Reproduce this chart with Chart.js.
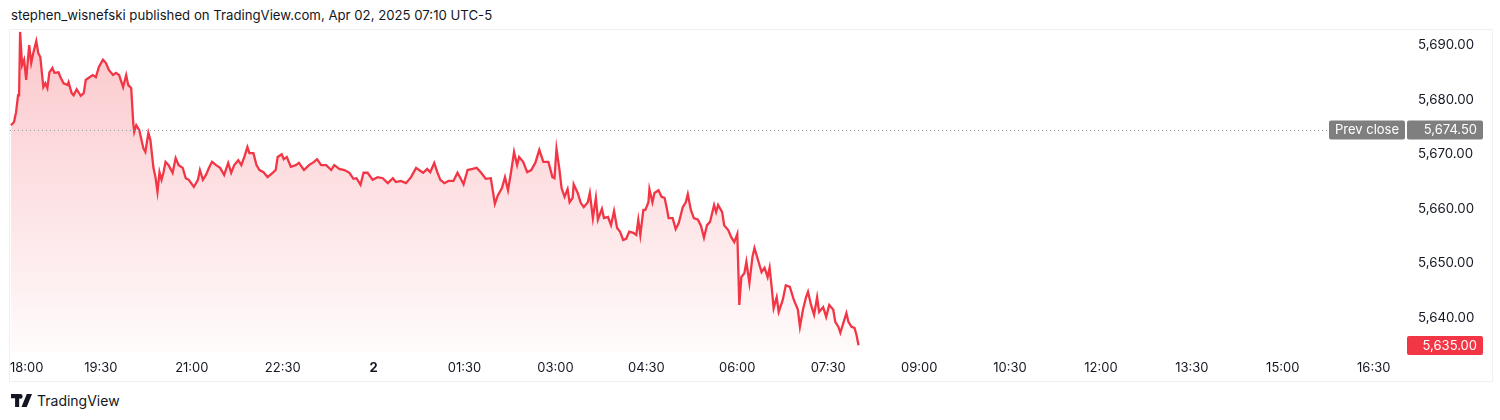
<!DOCTYPE html>
<html>
<head>
<meta charset="utf-8">
<script src="https://cdn.jsdelivr.net/npm/chart.js@4"></script>
<style>
    html, body { margin: 0; padding: 0; background: #ffffff; }
    body { width: 1500px; height: 420px; position: relative; overflow: hidden; font-family: Inter, "Noto Sans", sans-serif; color: #131722; }
    #header { position: absolute; left: 11px; top: 7px; font-size: 13.2px; white-space: nowrap; }
    #frame { position: absolute; left: 9px; top: 29px; width: 1482px; height: 351px; border: 1px solid #eef0f4; }
    #chart-wrap { position: absolute; left: 10px; top: 30px; width: 1482px; height: 351px; }
    #footer { position: absolute; left: 11px; top: 392px; font-size: 14px; display: flex; align-items: center; gap: 5px; }
</style>
</head>
<body>
<div id="header">stephen_wisnefski published on TradingView.com, Apr 02, 2025 07:10 UTC-5</div>
<div id="frame"></div>
<div id="chart-wrap"><canvas id="priceChart" width="1482" height="351"></canvas></div>
<div id="footer">
    <svg width="21" height="13" viewBox="0 0 36 22"><path d="M0 0h14v22H7V7H0z M16 0a4 4 0 1 1 0 8a4 4 0 1 1 0-8z" fill="#131722"/><path d="M27 0h9l-9 22h-9z" fill="#131722"/></svg>
    <span>TradingView</span>
</div>
<script>
// minutes since 18:00 (session open) and ES price
const minutes = [1, 4, 6, 8, 9, 10, 12, 14, 16, 19, 21, 23, 26, 28, 30, 33, 35, 37, 39, 42, 44, 48, 50, 53, 57, 58, 61, 63, 66, 70,
    73, 75, 78, 82, 85, 88, 92, 95, 98, 102, 105, 108, 112, 115, 117, 120, 122, 123, 125, 128, 132, 134, 137, 139, 142, 144, 146, 148, 150, 152,
    154, 157, 161, 164, 167, 171, 174, 177, 182, 186, 188, 191, 194, 197, 200, 204, 208, 212, 216, 219, 222, 226, 229, 232, 235, 237, 241, 244, 247, 251,
    255, 260, 263, 265, 269, 271, 274, 278, 283, 286, 291, 296, 301, 304, 308, 313, 318, 321, 326, 331, 336, 340, 343, 347, 350, 354, 359, 364, 369, 374,
    379, 382, 387, 392, 397, 402, 405, 409, 413, 416, 420, 423, 426, 430, 434, 439, 443, 446, 449, 453, 458, 462, 466, 471, 476, 480, 483, 487, 490, 493,
    496, 499, 502, 504, 508, 512, 516, 520, 524, 528, 533, 537, 539, 541, 544, 546, 549, 552, 554, 557, 558, 562, 565, 568, 572, 574, 577, 580, 582, 586,
    588, 592, 595, 598, 601, 604, 607, 610, 613, 617, 620, 622, 624, 627, 629, 632, 633, 636, 638, 642, 645, 648, 650, 652, 656, 659, 662, 666, 669, 671,
    674, 677, 681, 684, 687, 690, 693, 697, 699, 701, 705, 707, 711, 714, 717, 720, 722, 724, 727, 729, 732, 735, 737, 741, 744, 747, 750, 752, 754, 756,
    759, 761, 765, 768, 772, 776, 780, 782, 785, 788, 790, 793, 796, 799, 801, 805, 808, 811, 815, 817, 820, 822, 825, 828, 830, 833, 836, 838, 840];
const prices = [5675.3, 5675.9, 5677.7, 5680.8, 5680.8, 5692.4, 5686.3, 5687.3, 5683.6, 5690.0, 5686.7, 5688.5, 5690.7, 5688.5, 5687.8, 5682.3, 5683.0, 5682.1, 5685.0, 5685.8,
    5684.9, 5685.0, 5684.1, 5683.0, 5682.7, 5683.2, 5681.2, 5680.8, 5681.9, 5680.7, 5681.2, 5683.6, 5684.0, 5684.5, 5684.1, 5686.0, 5687.3, 5686.7, 5685.4, 5684.5,
    5684.9, 5684.5, 5682.3, 5684.5, 5682.7, 5682.1, 5675.7, 5674.1, 5675.3, 5674.4, 5671.1, 5670.4, 5673.9, 5672.6, 5667.5, 5665.8, 5663.1, 5666.7, 5665.3, 5666.7,
    5668.6, 5668.0, 5666.6, 5669.3, 5668.0, 5667.5, 5665.6, 5665.3, 5664.0, 5665.3, 5667.1, 5665.3, 5666.2, 5667.5, 5668.6, 5668.0, 5667.5, 5666.2, 5668.4, 5666.6,
    5668.0, 5668.9, 5668.0, 5669.5, 5671.3, 5670.2, 5670.2, 5668.0, 5667.1, 5666.7, 5665.8, 5666.6, 5667.1, 5669.5, 5670.0, 5669.1, 5669.5, 5667.7, 5668.0, 5668.4,
    5667.1, 5668.0, 5668.6, 5669.1, 5668.0, 5668.0, 5667.1, 5668.0, 5667.3, 5667.1, 5666.6, 5665.5, 5665.6, 5664.4, 5666.6, 5666.6, 5665.3, 5665.8, 5665.6, 5664.7,
    5665.6, 5664.9, 5665.1, 5664.7, 5665.8, 5667.5, 5667.1, 5666.6, 5667.3, 5666.7, 5668.4, 5666.7, 5665.3, 5664.7, 5665.1, 5665.1, 5666.6, 5665.6, 5664.5, 5667.1,
    5667.3, 5667.5, 5666.7, 5665.5, 5665.6, 5660.9, 5662.5, 5663.8, 5665.8, 5663.4, 5666.7, 5670.4, 5668.0, 5669.5, 5668.6, 5666.7, 5667.1, 5668.4, 5670.8, 5668.6,
    5668.6, 5665.8, 5665.6, 5671.0, 5667.1, 5663.8, 5662.2, 5663.6, 5661.2, 5662.0, 5664.5, 5662.9, 5661.1, 5660.3, 5661.2, 5662.9, 5658.3, 5662.0, 5658.0, 5660.0,
    5658.3, 5658.5, 5657.0, 5659.6, 5656.5, 5655.8, 5654.3, 5654.5, 5655.8, 5655.6, 5655.2, 5658.0, 5655.2, 5659.8, 5659.8, 5661.2, 5663.6, 5661.2, 5662.9, 5663.4,
    5662.2, 5662.0, 5660.3, 5658.3, 5658.3, 5656.3, 5657.4, 5660.3, 5661.2, 5662.7, 5659.8, 5658.3, 5658.0, 5656.9, 5654.7, 5657.0, 5657.6, 5660.7, 5659.4, 5660.7,
    5659.4, 5657.0, 5656.1, 5654.8, 5653.9, 5655.4, 5642.4, 5647.5, 5648.2, 5650.3, 5646.4, 5651.2, 5652.8, 5650.3, 5648.4, 5649.2, 5647.5, 5649.2, 5645.7, 5641.8,
    5643.8, 5641.1, 5643.3, 5646.0, 5645.7, 5643.3, 5641.5, 5638.4, 5641.5, 5643.8, 5644.8, 5642.4, 5640.6, 5643.8, 5641.1, 5642.0, 5640.2, 5642.4, 5641.5, 5639.3,
    5638.4, 5637.3, 5639.1, 5640.9, 5639.3, 5638.4, 5638.2, 5636.9, 5635.0];

const prevClose = 5674.50;
const lastPrice = 5635.00;

const timeTicks = [0, 90, 180, 270, 360, 450, 540, 630, 720, 810, 900, 990, 1080, 1170, 1260, 1350, 1380];
const timeLabels = ['18:00', '19:30', '21:00', '22:30', '2', '01:30', '03:00', '04:30', '06:00', '07:30', '09:00', '10:30', '12:00', '13:30', '15:00', '16:30', ''];
const priceTicks = [5640, 5650, 5660, 5670, 5680, 5690];

const FONT = 'Inter, "Noto Sans", sans-serif';
const RED = '#f23645';

function fmt(v) {
    return v.toLocaleString('en-US', { minimumFractionDigits: 2, maximumFractionDigits: 2 });
}

function roundBox(ctx, x, y, w, h, r, color) {
    ctx.fillStyle = color;
    ctx.beginPath();
    ctx.roundRect(x, y, w, h, r);
    ctx.fill();
}

// no extra room around the plot for tick labels
function noPadding(scale) {
    scale.paddingLeft = 0;
    scale.paddingRight = 0;
    scale.paddingTop = 0;
    scale.paddingBottom = 0;
}

// dotted prev close line + the price tags on the right axis
const markerPlugin = {
    id: 'markers',
    afterDraw(chart) {
        const { ctx, chartArea, scales: { y } } = chart;
        const axisLeft = y.left;
        ctx.save();

        const yPrev = Math.round(y.getPixelForValue(prevClose)) + 0.5;
        ctx.strokeStyle = '#9598a1';
        ctx.lineWidth = 1;
        ctx.setLineDash([1, 3]);
        ctx.beginPath();
        ctx.moveTo(chartArea.left, yPrev);
        ctx.lineTo(axisLeft - 76, yPrev);
        ctx.stroke();
        ctx.setLineDash([]);

        ctx.font = '13px ' + FONT;
        ctx.textBaseline = 'middle';
        roundBox(ctx, axisLeft - 75, yPrev - 10, 76, 19, 2, '#7f7f7f');
        roundBox(ctx, axisLeft + 3, yPrev - 10, 76, 19, 2, '#7f7f7f');
        ctx.fillStyle = '#ffffff';
        ctx.textAlign = 'center';
        ctx.fillText('Prev close', axisLeft - 37, yPrev);
        ctx.textAlign = 'right';
        ctx.fillText(fmt(prevClose), axisLeft + 73, yPrev);

        const yLast = Math.round(y.getPixelForValue(lastPrice));
        roundBox(ctx, axisLeft + 3, yLast - 9, 76, 19, 2, RED);
        ctx.fillStyle = '#ffffff';
        ctx.fillText(fmt(lastPrice), axisLeft + 73, yLast + 1);
        ctx.restore();
    }
};

const ctx = document.getElementById('priceChart').getContext('2d');
new Chart(ctx, {
    type: 'line',
    data: {
        datasets: [{
            data: minutes.map((m, i) => ({ x: m, y: prices[i] })),
            borderColor: RED,
            borderWidth: 2.3,
            pointRadius: 0,
            tension: 0,
            fill: 'start',
            backgroundColor(c) {
                const area = c.chart.chartArea;
                if (!area) return 'rgba(242,54,69,0.2)';
                const g = c.chart.ctx.createLinearGradient(0, area.top, 0, area.bottom);
                g.addColorStop(0, 'rgba(242,54,69,0.28)');
                g.addColorStop(1, 'rgba(242,54,69,0.02)');
                return g;
            }
        }]
    },
    options: {
        responsive: false,
        animation: false,
        events: [],
        layout: { padding: 0 },
        plugins: { legend: { display: false }, tooltip: { enabled: false } },
        scales: {
            x: {
                type: 'linear',
                min: 0,
                max: 1380,
                grid: { display: false, drawTicks: false },
                border: { display: false },
                afterBuildTicks(scale) { scale.ticks = timeTicks.map(v => ({ value: v })); },
                afterFit(scale) { scale.height = 29; noPadding(scale); },
                ticks: {
                    autoSkip: false,
                    maxRotation: 0,
                    align: 'inner',
                    padding: 8,
                    color: '#131722',
                    font: (c) => ({ family: FONT, size: 13, weight: c.tick && c.tick.label === '2' ? 'bold' : 'normal' }),
                    callback: (v, i) => timeLabels[i]
                }
            },
            y: {
                position: 'right',
                min: 5633.77,
                max: 5692.75,
                grid: { display: false, drawTicks: false },
                border: { display: false },
                afterBuildTicks(scale) { scale.ticks = priceTicks.map(v => ({ value: v })); },
                afterFit(scale) { scale.width = 88; noPadding(scale); },
                ticks: {
                    padding: 14,
                    color: '#131722',
                    font: { family: FONT, size: 13.3 },
                    callback: (v) => fmt(v)
                }
            }
        }
    },
    plugins: [markerPlugin]
});
</script>
</body>
</html>
